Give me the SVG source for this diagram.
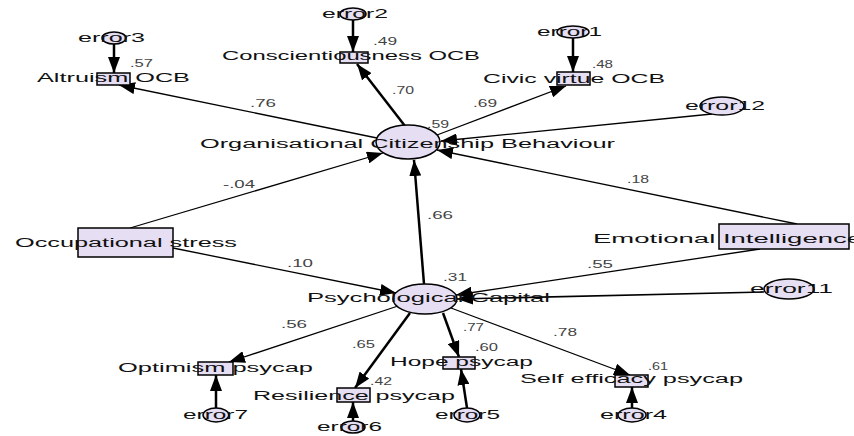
<svg xmlns="http://www.w3.org/2000/svg" width="854" height="436" viewBox="0 0 854 436">
<style>
.bg{fill:#ffffff}
.obs{fill:#e6def2;stroke:#000;stroke-width:1.5}
.lat{fill:#e6def2;stroke:#000;stroke-width:1.5}
.err{fill:#e6def2;stroke:#000;stroke-width:1.5}
.t{font-family:"Liberation Sans",Arial,sans-serif;font-size:12px;fill:#111}
.n{font-family:"Liberation Sans",Arial,sans-serif;font-size:10px;fill:#444}
.c{fill:none;stroke:#000;stroke-width:1.3}
.k{fill:none;stroke:#000;stroke-width:2.5}
</style>
<defs>
<marker id="ah" viewBox="0 0 16 12" refX="16" refY="6" markerWidth="16" markerHeight="12" markerUnits="userSpaceOnUse" orient="auto">
<path d="M0,0 L16,6 L0,12 z" fill="#000"/>
</marker>
</defs>
<rect class="bg" x="0" y="0" width="854" height="436"/>
<g id="connectors">
<line class="k" x1="114" y1="44" x2="114" y2="73" marker-end="url(#ah)"/>
<line class="k" x1="353" y1="20" x2="353" y2="52" marker-end="url(#ah)"/>
<line class="k" x1="573" y1="38" x2="573" y2="72" marker-end="url(#ah)"/>
<line class="c" x1="712" y1="114" x2="441" y2="141" marker-end="url(#ah)"/>
<line class="c" x1="377" y1="138" x2="119" y2="85" marker-end="url(#ah)"/>
<line class="k" x1="405" y1="126" x2="357" y2="64" marker-end="url(#ah)"/>
<line class="c" x1="437" y1="135" x2="566" y2="86" marker-end="url(#ah)"/>
<line class="c" x1="130" y1="228" x2="383" y2="153" marker-end="url(#ah)"/>
<line class="c" x1="173" y1="248" x2="396" y2="293" marker-end="url(#ah)"/>
<line class="k" x1="424" y1="284" x2="414" y2="160" marker-end="url(#ah)"/>
<line class="c" x1="797" y1="224" x2="437" y2="150" marker-end="url(#ah)"/>
<line class="c" x1="760" y1="249" x2="456" y2="295" marker-end="url(#ah)"/>
<line class="c" x1="764" y1="292" x2="457" y2="299" marker-end="url(#ah)" style="stroke-width:1.6"/>
<line class="c" x1="398" y1="306" x2="229" y2="362" marker-end="url(#ah)"/>
<line class="k" x1="410" y1="313" x2="355" y2="388" marker-end="url(#ah)"/>
<line class="k" x1="443" y1="313" x2="459" y2="357" marker-end="url(#ah)"/>
<line class="c" x1="451" y1="308" x2="630" y2="375" marker-end="url(#ah)"/>
<line class="k" x1="216" y1="408" x2="216" y2="375" marker-end="url(#ah)"/>
<line class="k" x1="353" y1="421" x2="353" y2="402" marker-end="url(#ah)"/>
<line class="k" x1="467" y1="408" x2="461" y2="369" marker-end="url(#ah)"/>
<line class="k" x1="632" y1="408" x2="632" y2="387" marker-end="url(#ah)"/>
</g>
<g id="labels">
<text class="n" x="130" y="67" textLength="23" lengthAdjust="spacingAndGlyphs">.57</text>
<text class="n" x="373" y="45" textLength="24" lengthAdjust="spacingAndGlyphs">.49</text>
<text class="n" x="592" y="68" textLength="21" lengthAdjust="spacingAndGlyphs">.48</text>
<text class="n" x="250" y="107" textLength="26" lengthAdjust="spacingAndGlyphs">.76</text>
<text class="n" x="392" y="94" textLength="22" lengthAdjust="spacingAndGlyphs">.70</text>
<text class="n" x="473" y="107" textLength="24" lengthAdjust="spacingAndGlyphs">.69</text>
<text class="n" x="427" y="128" textLength="22" lengthAdjust="spacingAndGlyphs">.59</text>
<text class="n" x="223" y="188" textLength="32" lengthAdjust="spacingAndGlyphs">-.04</text>
<text class="n" x="627" y="183" textLength="22" lengthAdjust="spacingAndGlyphs">.18</text>
<text class="n" x="427" y="219" textLength="26" lengthAdjust="spacingAndGlyphs">.66</text>
<text class="n" x="287" y="267" textLength="26" lengthAdjust="spacingAndGlyphs">.10</text>
<text class="n" x="587" y="268" textLength="26" lengthAdjust="spacingAndGlyphs">.55</text>
<text class="n" x="443" y="281" textLength="24" lengthAdjust="spacingAndGlyphs">.31</text>
<text class="n" x="281" y="328" textLength="26" lengthAdjust="spacingAndGlyphs">.56</text>
<text class="n" x="352" y="348" textLength="23" lengthAdjust="spacingAndGlyphs">.65</text>
<text class="n" x="463" y="331" textLength="21" lengthAdjust="spacingAndGlyphs">.77</text>
<text class="n" x="553" y="336" textLength="24" lengthAdjust="spacingAndGlyphs">.78</text>
<text class="n" x="370" y="385" textLength="22" lengthAdjust="spacingAndGlyphs">.42</text>
<text class="n" x="475" y="351" textLength="23" lengthAdjust="spacingAndGlyphs">.60</text>
<text class="n" x="648" y="370" textLength="20" lengthAdjust="spacingAndGlyphs">.61</text>
</g>
<g id="error3"><ellipse class="err" cx="114" cy="38" rx="12" ry="6"/><text class="t" x="78" y="42" textLength="67" lengthAdjust="spacingAndGlyphs">error3</text></g>
<g id="error2"><ellipse class="err" cx="353" cy="14" rx="13" ry="6"/><text class="t" x="322" y="18" textLength="66" lengthAdjust="spacingAndGlyphs">error2</text></g>
<g id="error1"><ellipse class="err" cx="573" cy="32" rx="16" ry="6"/><text class="t" x="537" y="36" textLength="65" lengthAdjust="spacingAndGlyphs">error1</text></g>
<g id="error12"><ellipse class="err" cx="722" cy="106" rx="22" ry="9"/><text class="t" x="685" y="110" textLength="80" lengthAdjust="spacingAndGlyphs">error12</text></g>
<g id="error11"><ellipse class="err" cx="789" cy="289" rx="25" ry="10"/><text class="t" x="750" y="293" textLength="83" lengthAdjust="spacingAndGlyphs">error11</text></g>
<g id="error7"><ellipse class="err" cx="216" cy="415" rx="13" ry="7"/><text class="t" x="183" y="419" textLength="65" lengthAdjust="spacingAndGlyphs">error7</text></g>
<g id="error6"><ellipse class="err" cx="353" cy="427" rx="12" ry="6"/><text class="t" x="317" y="431" textLength="65" lengthAdjust="spacingAndGlyphs">error6</text></g>
<g id="error5"><ellipse class="err" cx="467" cy="415" rx="13" ry="7"/><text class="t" x="435" y="419" textLength="65" lengthAdjust="spacingAndGlyphs">error5</text></g>
<g id="error4"><ellipse class="err" cx="632" cy="415" rx="14" ry="7"/><text class="t" x="600" y="419" textLength="67" lengthAdjust="spacingAndGlyphs">error4</text></g>
<g id="altruism"><rect class="obs" x="97" y="73" width="33" height="12"/><text class="t" x="37" y="82" textLength="153" lengthAdjust="spacingAndGlyphs">Altruism OCB</text></g>
<g id="conscientiousness"><rect class="obs" x="340" y="52" width="28" height="11"/><text class="t" x="222" y="60" textLength="258" lengthAdjust="spacingAndGlyphs">Conscientiousness OCB</text></g>
<g id="civic"><rect class="obs" x="557" y="72" width="33" height="13"/><text class="t" x="483" y="83" textLength="182" lengthAdjust="spacingAndGlyphs">Civic virtue OCB</text></g>
<g id="ocb"><ellipse class="lat" cx="408" cy="142" rx="32" ry="17"/><text class="t" x="200" y="148" textLength="415" lengthAdjust="spacingAndGlyphs">Organisational Citizenship Behaviour</text></g>
<g id="occstress"><rect class="obs" x="78" y="228" width="95" height="29"/><text class="t" x="15" y="247" textLength="222" lengthAdjust="spacingAndGlyphs">Occupational stress</text></g>
<g id="ei"><rect class="obs" x="719" y="224" width="130" height="25"/><text class="t" x="593" y="243" textLength="269" lengthAdjust="spacingAndGlyphs">Emotional Intelligence</text></g>
<g id="psycap"><ellipse class="lat" cx="425" cy="299" rx="32" ry="15"/><text class="t" x="307" y="302" textLength="243" lengthAdjust="spacingAndGlyphs">Psychological Capital</text></g>
<g id="optimism"><rect class="obs" x="198" y="362" width="35" height="13"/><text class="t" x="118" y="372" textLength="195" lengthAdjust="spacingAndGlyphs">Optimism psycap</text></g>
<g id="resilience"><rect class="obs" x="337" y="388" width="33" height="14"/><text class="t" x="253" y="400" textLength="202" lengthAdjust="spacingAndGlyphs">Resilience psycap</text></g>
<g id="hope"><rect class="obs" x="443" y="357" width="32" height="12"/><text class="t" x="390" y="366" textLength="143" lengthAdjust="spacingAndGlyphs">Hope psycap</text></g>
<g id="selfefficacy"><rect class="obs" x="615" y="375" width="33" height="12"/><text class="t" x="520" y="383" textLength="223" lengthAdjust="spacingAndGlyphs">Self efficacy psycap</text></g>
</svg>
